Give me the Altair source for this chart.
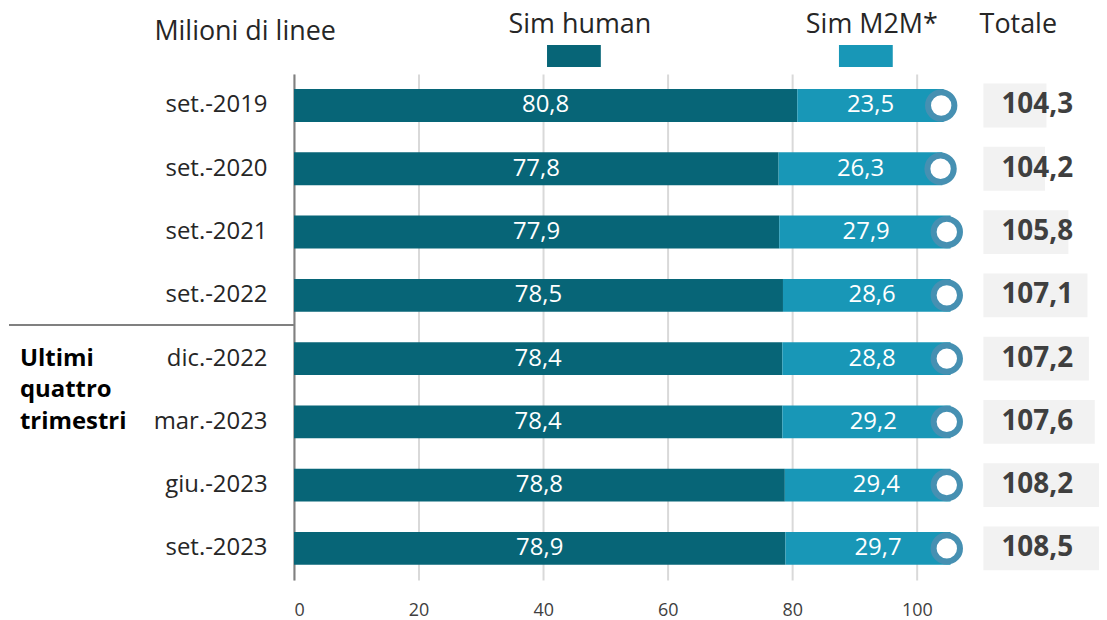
import altair as alt
import pandas as pd

periods = ["set.-2019", "set.-2020", "set.-2021", "set.-2022",
           "dic.-2022", "mar.-2023", "giu.-2023", "set.-2023"]
sim_human = [80.8, 77.8, 77.9, 78.5, 78.4, 78.4, 78.8, 78.9]
sim_m2m = [23.5, 26.3, 27.9, 28.6, 28.8, 29.2, 29.4, 29.7]
totale = [104.3, 104.2, 105.8, 107.1, 107.2, 107.6, 108.2, 108.5]
x_ticks = [0, 20, 40, 60, 80, 100]
series_names = ["Sim human", "Sim M2M*"]
unit_title = "Milioni di linee"
total_title = "Totale"
note_lines = ["Ultimi", "quattro", "trimestri"]

DARK = "#076577"
LIGHT = "#1897b7"
RING = "#4690b2"
BOX = "#f2f2f2"
TXT = "#262626"
FONT = "Open Sans"

df = pd.DataFrame({"period": periods, "human": sim_human,
                   "m2m": sim_m2m, "total": totale})

base = alt.Chart(df).transform_calculate(
    end="datum.human + datum.m2m",
    mid_h="datum.human / 2",
    mid_m="datum.human + datum.m2m / 2",
    lab_h="replace(format(datum.human, '.1f'), '.', ',')",
    lab_m="replace(format(datum.m2m, '.1f'), '.', ',')",
    lab_t="replace(format(datum.total, '.1f'), '.', ',')",
    ring="min(datum.total, 105.2) - 0.4",
)

y_enc = alt.Y(
    "period:N", sort=periods, title=None,
    scale=alt.Scale(paddingInner=0.3, paddingOuter=0.15),
    axis=alt.Axis(domainColor="#808080", domainWidth=2, ticks=False,
                  labelFontSize=24, labelColor=TXT, labelPadding=27,
                  labelFont=FONT, grid=False),
)

xs = alt.Scale(domain=[0, 105.4], nice=False, zero=True)
x_axis = alt.Axis(values=x_ticks, grid=True, gridColor="#d9d9d9", gridWidth=2,
                  domain=False, ticks=False, labelFontSize=18,
                  labelColor="#404040", labelPadding=22, labelFont=FONT,
                  title=None)

human_bar = base.mark_bar(size=33, clip=True, color=DARK).encode(
    x=alt.X("human:Q", scale=xs, axis=x_axis), y=y_enc)
m2m_bar = base.mark_bar(size=33, clip=True, color=LIGHT).encode(
    x=alt.X("human:Q", scale=xs, axis=x_axis), x2="end:Q", y=y_enc)
human_lab = base.mark_text(color="white", fontSize=24, font=FONT,
                           align="center", baseline="middle").encode(
    x=alt.X("mid_h:Q", scale=xs, axis=x_axis), y=y_enc, text="lab_h:N")
m2m_lab = base.mark_text(color="white", fontSize=24, font=FONT,
                         align="center", baseline="middle").encode(
    x=alt.X("mid_m:Q", scale=xs, axis=x_axis), y=y_enc, text="lab_m:N")
rings = base.mark_point(shape="circle", size=700, filled=True, fill="white",
                        stroke=RING, strokeWidth=6, opacity=1).encode(
    x=alt.X("ring:Q", scale=xs, axis=x_axis), y=y_enc)

main = alt.layer(human_bar, m2m_bar, human_lab, m2m_lab, rings)

tot_box = base.mark_bar(size=44, color=BOX).encode(
    x=alt.X("total:Q", scale=alt.Scale(domain=[100, 108.5], range=[692, 817],
                                       nice=False, zero=False), axis=None),
    x2=alt.datum(100), y=y_enc)
tot_txt = base.mark_text(fontSize=28, fontWeight="bold", color="#3f3f3f",
                         font=FONT, align="center", baseline="middle").encode(
    x=alt.value(746), y=y_enc, text="lab_t:N")

one = alt.Chart(pd.DataFrame({"k": [0]}))


def header(txt, x, y, **kw):
    return one.mark_text(fontSize=27, color=TXT, font=FONT, align="center",
                         baseline="middle", **kw).encode(
        x=alt.value(x), y=alt.value(y), text=alt.value(txt))


h_unit = header(unit_title, -49, -42)
h_human = header(series_names[0], 287, -49)
h_m2m = header(series_names[1], 580, -49)
h_tot = header(total_title, 727, -49)
sw_h = one.mark_rect(color=DARK).encode(x=alt.value(254), x2=alt.value(308),
                                        y=alt.value(-29), y2=alt.value(-7))
sw_m = one.mark_rect(color=LIGHT).encode(x=alt.value(547), x2=alt.value(601),
                                         y=alt.value(-29), y2=alt.value(-7))
sep = one.mark_rule(color="#808080", strokeWidth=2).encode(
    x=alt.value(-286), x2=alt.value(0), y=alt.value(252))
note = one.mark_text(fontSize=24, fontWeight="bold", color="#000000",
                     font=FONT, align="left", baseline="alphabetic",
                     lineHeight=31.5).encode(
    x=alt.value(-275), y=alt.value(293), text=alt.value(note_lines))

chart = alt.layer(
    tot_box, tot_txt, main, h_unit, h_human, h_m2m, h_tot, sw_h, sw_m, sep, note
).resolve_scale(x="independent").properties(
    width=659, height=508, autosize="none",
    padding={"left": 287, "top": 65, "right": 149, "bottom": 40},
).configure_view(stroke=None)

chart.save("out.html", embed_options={"renderer": "svg", "actions": False})
